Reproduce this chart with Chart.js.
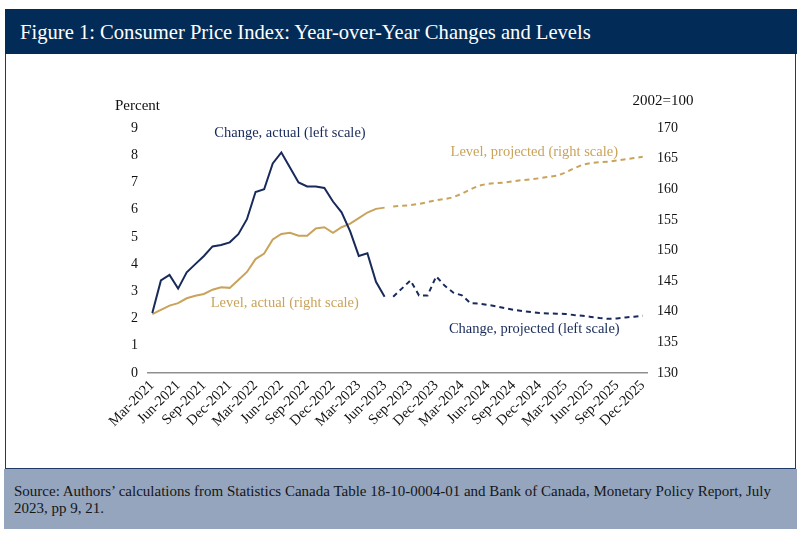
<!DOCTYPE html>
<html><head><meta charset="utf-8">
<script src="https://cdn.jsdelivr.net/npm/chart.js@4"></script>
<style>
html,body{margin:0;padding:0;background:#fff;width:800px;height:539px;overflow:hidden;font-family:"Liberation Serif",serif;}
#banner{position:absolute;left:5px;top:9px;width:792px;height:45px;background:#022c57;color:#fff;font-size:20.6px;line-height:46px;box-sizing:border-box;padding-left:15px;white-space:nowrap;}
#box{position:absolute;left:5px;top:54px;width:791px;height:415px;box-sizing:border-box;border:1.5px solid #1f3a66;border-top:none;}
#foot{position:absolute;left:4px;top:469px;width:793px;height:60px;background:#95a5bd;color:#151515;font-size:15px;line-height:17px;box-sizing:border-box;padding:14px 10px 0 10px;white-space:nowrap;}
#wrap{position:absolute;left:0;top:0;width:800px;height:539px;}
</style></head>
<body>
<div id="banner">Figure 1: Consumer Price Index: Year-over-Year Changes and Levels</div>
<div id="box"></div>
<div id="foot">Source: Authors’ calculations from Statistics Canada Table 18-10-0004-01 and Bank of Canada, Monetary Policy Report, July<br>2023, pp 9, 21.</div>
<div id="wrap"><canvas id="c" width="800" height="539"></canvas></div>
<script>
const months = [
 'Mar-2021','Apr-2021','May-2021','Jun-2021','Jul-2021','Aug-2021','Sep-2021','Oct-2021','Nov-2021','Dec-2021',
 'Jan-2022','Feb-2022','Mar-2022','Apr-2022','May-2022','Jun-2022','Jul-2022','Aug-2022','Sep-2022','Oct-2022','Nov-2022','Dec-2022',
 'Jan-2023','Feb-2023','Mar-2023','Apr-2023','May-2023','Jun-2023','Jul-2023','Aug-2023','Sep-2023','Oct-2023','Nov-2023','Dec-2023',
 'Jan-2024','Feb-2024','Mar-2024','Apr-2024','May-2024','Jun-2024','Jul-2024','Aug-2024','Sep-2024','Oct-2024','Nov-2024','Dec-2024',
 'Jan-2025','Feb-2025','Mar-2025','Apr-2025','May-2025','Jun-2025','Jul-2025','Aug-2025','Sep-2025','Oct-2025','Nov-2025','Dec-2025'
];
// Mar-2021 .. Jun-2023 (actual)
const changeActual = [2.2,3.4,3.6,3.1,3.7,4.0,4.3,4.65,4.7,4.8,5.1,5.65,6.65,6.75,7.7,8.1,7.55,7.0,6.85,6.85,6.8,6.3,5.9,5.2,4.3,4.4,3.35,2.8];
const levelActual = [139.6,140.3,141.0,141.4,142.2,142.6,142.9,143.6,144.0,143.9,145.2,146.5,148.6,149.5,151.8,152.7,152.9,152.4,152.4,153.6,153.8,152.9,153.8,154.4,155.3,156.2,156.8,157.0];
// Jul-2023 .. Dec-2025 (projected)
const changeProjected = [2.8,3.1,3.4,2.85,2.85,3.55, 3.2,2.95,2.85,2.56,2.55,2.5,2.45,2.38,2.32,2.28,2.24,2.2, 2.19,2.18,2.17,2.13,2.1,2.06,2.02,1.99,2.0,2.04,2.07,2.1];
const levelProjected = [157.2,157.3,157.4,157.6,157.9,158.2, 158.4,158.7,159.3,160.0,160.6,160.9,161.0,161.1,161.3,161.5,161.6,161.8, 162.0,162.2,162.7,163.4,164.0,164.3,164.4,164.5,164.7,164.9,165.1,165.3];
const leftTicks = {min:0,max:9,step:1};
const rightTicks = {min:130,max:170,step:5};

const NAVY = '#172a5a', GOLD = '#c9a35b', FONT = '"Liberation Serif", serif';
const nA = changeActual.length;
const pad = (arr, before, total) => { const out = new Array(total).fill(null); arr.forEach((v,i)=>{ out[before+i]=v; }); return out; };
const N = months.length;

const notes = [
 {text:'Change, actual (left scale)', x:16.0, y:8.82, color:NAVY},
 {text:'Level, actual (right scale)', x:15.4, y:2.57, color:GOLD},
 {text:'Level, projected (right scale)', x:44.4, y:8.12, color:GOLD},
 {text:'Change, projected (left scale)', x:44.4, y:1.62, color:NAVY}
];

const notePlugin = {
  id:'notes',
  afterDraw(chart){
    const ctx = chart.ctx, xs = chart.scales.x, ys = chart.scales.yL, ca = chart.chartArea;
    ctx.save();
    ctx.textBaseline = 'middle';
    ctx.textAlign = 'center';
    ctx.font = '14.5px ' + FONT;
    notes.forEach(n => { ctx.fillStyle = n.color; ctx.fillText(n.text, xs.getPixelForValue(n.x), ys.getPixelForValue(n.y)); });
    ctx.fillStyle = '#111';
    ctx.font = '15px ' + FONT;
    ctx.fillText('Percent', ca.left - 10.5, ys.getPixelForValue(9.8));
    ctx.fillText('2002=100', ca.right + 16, ys.getPixelForValue(10.0));
    ctx.restore();
  }
};

new Chart(document.getElementById('c'), {
  type:'line',
  data:{
    labels: months,
    datasets:[
      {data: pad(changeActual,0,N), borderColor:NAVY, borderWidth:2, yAxisID:'yL'},
      {data: pad(changeProjected,nA,N), borderColor:NAVY, borderWidth:2, borderDash:[5,4], yAxisID:'yL'},
      {data: pad(levelActual,0,N), borderColor:GOLD, borderWidth:2, yAxisID:'yR'},
      {data: pad(levelProjected,nA,N), borderColor:GOLD, borderWidth:2, borderDash:[5,4], yAxisID:'yR'}
    ]
  },
  options:{
    responsive:false, animation:false, devicePixelRatio:1,
    elements:{point:{radius:0}, line:{tension:0, fill:false}},
    layout:{padding:{top:128,bottom:86,left:0,right:0}},
    plugins:{legend:{display:false}, tooltip:{enabled:false}},
    scales:{
      x:{type:'category', offset:true,
         grid:{display:false, drawTicks:false},
         border:{display:true, color:'#8f8f8f', width:1.5},
         ticks:{autoSkip:false, maxRotation:45, minRotation:45, padding:4, color:'#111', font:{family:FONT,size:14.5},
                callback:(v,i)=> i%3===0 ? months[i] : null},
         afterFit:s=>{s.height=80;}},
      yL:{position:'left', min:leftTicks.min, max:leftTicks.max,
         grid:{display:false, drawTicks:false}, border:{display:false},
         ticks:{stepSize:leftTicks.step, padding:10, color:'#111', font:{family:FONT,size:14}},
         afterFit:s=>{s.width=148;}},
      yR:{position:'right', min:rightTicks.min, max:rightTicks.max,
         grid:{display:false, drawTicks:false}, border:{display:false},
         ticks:{stepSize:rightTicks.step, padding:10, color:'#111', font:{family:FONT,size:14}},
         afterFit:s=>{s.width=153;}}
    }
  },
  plugins:[notePlugin]
});
</script>
</body></html>
